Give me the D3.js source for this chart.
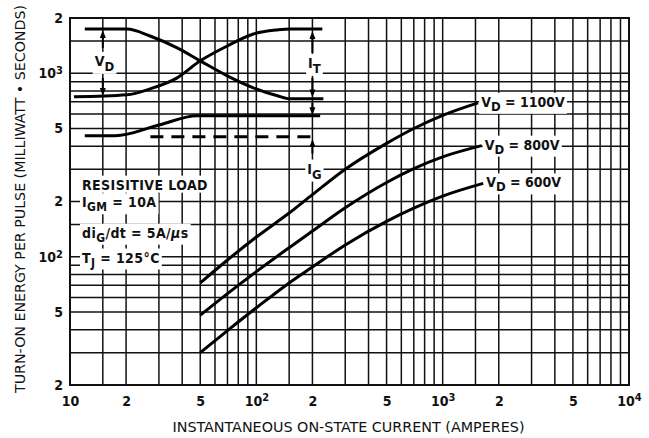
<!DOCTYPE html>
<html><head><meta charset="utf-8">
<script src="https://cdn.jsdelivr.net/npm/d3@7"></script>
<style>
body{margin:0;background:#fff;}
svg{display:block;background:#fff;}
text{font-family:"Liberation Sans Narrow","DejaVu Sans Condensed","Arial Narrow",sans-serif;fill:#111;white-space:pre;}
</style></head><body>
<svg id="chart" width="649" height="438"></svg>
<script>
// ---------- data ----------
const xDomain = [10, 10000];
const yDomain = [20, 2000];
const gridDecades = [10, 100, 1000];
const gridMultipliers = [1, 1.5, 2, 3, 4, 5, 6, 7, 8, 9];
const xTickValues = [10, 20, 50, 100, 200, 500, 1000, 2000, 5000, 10000];
const xTickLabels = ["10", "2", "5", "10^{2}", "2", "5", "10^{3}", "2", "5", "10^{4}"];
const yTickValues = [20, 50, 100, 200, 500, 1000, 2000];
const yTickLabels = ["2", "5", "10^{2}", "2", "5", "10^{3}", "2"];
const xTitle = "INSTANTANEOUS ON-STATE CURRENT (AMPERES)";
const yTitle = "TURN-ON ENERGY PER PULSE (MILLIWATT \u2022 SECONDS)";

const seriesLabels = ["V_{D} = 1100V", "V_{D} = 800V", "V_{D} = 600V"];
const current1100 = [50, 70, 100, 150, 200, 300, 500, 700, 1000, 1550];
const energy1100  = [72, 96, 128, 173, 218, 300, 415, 500, 590, 690];
const current800  = [50, 70, 100, 150, 200, 300, 500, 700, 1000, 1620];
const energy800   = [48, 63, 83, 112, 138, 185, 254, 302, 350, 403];
const current600  = [50, 70, 100, 150, 200, 300, 500, 700, 1000, 1650];
const energy600   = [30, 39.6, 52.7, 72, 88, 116, 156, 184, 214, 251];

// inset waveform sketch (in chart units: amperes, mW·s)
const vdWaveI = [12, 20.2, 26.9, 37.6, 50, 69.8, 96.4, 129.8, 152, 229];
const vdWaveE = [1742, 1742, 1596, 1374, 1168, 968, 833, 754, 726, 726];
const itWaveI = [10.5, 20.2, 26.9, 37.6, 50, 69.8, 96.4, 129.8, 152, 226];
const itWaveE = [744, 763, 822, 944, 1168, 1408, 1637, 1722, 1742, 1742];
const igWaveI = [12, 17.5, 30, 48, 220];
const igWaveE = [457, 457, 522, 587, 587];
const igDashI = [27, 215];
const igDashE = [451, 451];
const arrowCurrent = [15, 15, 200, 200, 200, 200];
const arrowTail = [1374, 944, 1291, 944, 690, 365];
const arrowTip  = [1720, 752, 1700, 738, 590, 438];
const insetLabels = ["V_{D}", "I_{T}", "I_{G}"];
const insetLabelI = [15.3, 205, 205];
const insetLabelE = [1097, 1070, 284];

const noteLines = ["RESISITIVE LOAD", "I_{GM} = 10A", "di_{G}/dt = 5A/~{\u03bc}s", "T_{J} = 125\u00b0C"];
const noteI = [11.6, 11.6, 11.6, 11.6];
const noteE = [232, 186, 127, 93];

// ---------- drawing ----------
const svg = d3.select("#chart");
const x = d3.scaleLog().domain(xDomain).range([70, 629]);
const y = d3.scaleLog().domain(yDomain).range([385, 18]);

const xGrid = [], yGrid = [];
gridDecades.forEach(d => gridMultipliers.forEach(m => { xGrid.push(d * m); }));
xGrid.push(10000);
gridDecades.forEach(d => gridMultipliers.forEach(m => { const v = d * m; if (v >= 20 && v <= 2000) yGrid.push(v); }));
yGrid.push(2000);

function rich(sel, str, o) {
  const re = /([_^~])\{([^}]*)\}/g;
  const parts = []; let last = 0, m;
  while ((m = re.exec(str))) {
    if (m.index > last) parts.push({t: "n", s: str.slice(last, m.index)});
    parts.push({t: m[1], s: m[2]});
    last = re.lastIndex;
  }
  if (last < str.length) parts.push({t: "n", s: str.slice(last)});
  let shift = 0;
  parts.forEach(p => {
    const ts = sel.append("tspan").text(p.s);
    let target = 0;
    if (p.t === "_") { target = o.subDy; ts.attr("font-size", o.subSize); }
    else if (p.t === "^") { target = -o.supDy; ts.attr("font-size", o.supSize); }
    else if (p.t === "~") { ts.attr("font-style", "italic"); }
    const dy = target - shift;
    if (dy) ts.attr("dy", dy);
    shift = target;
  });
}

// grid
const grid = svg.append("g");
grid.selectAll("line.v").data(xGrid).join("line").attr("class", "v")
  .attr("x1", d => x(d)).attr("x2", d => x(d)).attr("y1", y(yDomain[0])).attr("y2", y(yDomain[1]))
  .attr("stroke", "#111").attr("stroke-width", 1.5);
grid.selectAll("line.h").data(yGrid).join("line").attr("class", "h")
  .attr("y1", d => y(d)).attr("y2", d => y(d)).attr("x1", x(xDomain[0])).attr("x2", x(xDomain[1]))
  .attr("stroke", "#111").attr("stroke-width", 1.5);
svg.append("rect").attr("x", x(xDomain[0])).attr("y", y(yDomain[1]))
  .attr("width", x(xDomain[1]) - x(xDomain[0])).attr("height", y(yDomain[0]) - y(yDomain[1]))
  .attr("fill", "none").attr("stroke", "#111").attr("stroke-width", 2);

// axes
const gx = svg.append("g").attr("transform", `translate(0,${y(yDomain[0])})`)
  .call(d3.axisBottom(x).tickValues(xTickValues).tickFormat((d, i) => xTickLabels[i]).tickSize(0).tickPadding(11));
gx.select(".domain").remove();
gx.selectAll(".tick text").each(function(d, i) {
  const t = d3.select(this); t.text(null);
  t.attr("font-size", 14).attr("font-weight", "bold").attr("font-family", null);
  rich(t, xTickLabels[i], {supDy: 5, supSize: 11});
});
const gy = svg.append("g").attr("transform", `translate(${x(xDomain[0])},0)`)
  .call(d3.axisLeft(y).tickValues(yTickValues).tickFormat((d, i) => yTickLabels[i]).tickSize(0).tickPadding(7));
gy.select(".domain").remove();
gy.selectAll(".tick text").each(function(d, i) {
  const t = d3.select(this); t.text(null);
  t.attr("font-size", 14).attr("font-weight", "bold").attr("font-family", null);
  rich(t, yTickLabels[i], {supDy: 4, supSize: 11});
});

svg.append("text").attr("x", (x(xDomain[0]) + x(xDomain[1])) / 2 - 1).attr("y", 432)
  .attr("text-anchor", "middle").attr("font-size", 14).attr("textLength", 352)
  .attr("lengthAdjust", "spacingAndGlyphs").text(xTitle);
svg.append("text").attr("transform", "translate(25,199) rotate(-90)")
  .attr("text-anchor", "middle").attr("font-size", 14).attr("textLength", 388)
  .attr("lengthAdjust", "spacingAndGlyphs").text(yTitle);

// data curves
const line = d3.line().x(d => x(d[0])).y(d => y(d[1])).curve(d3.curveMonotoneX);
const series = [
  d3.zip(current1100, energy1100),
  d3.zip(current800, energy800),
  d3.zip(current600, energy600)
];
svg.append("g").selectAll("path").data(series).join("path")
  .attr("d", line).attr("fill", "none").attr("stroke", "#000").attr("stroke-width", 3);

// inset waveforms
const inset = svg.append("g");
[[vdWaveI, vdWaveE], [itWaveI, itWaveE], [igWaveI, igWaveE]].forEach(([a, b]) => {
  inset.append("path").datum(d3.zip(a, b)).attr("d", line)
    .attr("fill", "none").attr("stroke", "#000").attr("stroke-width", 3);
});
inset.append("path").datum(d3.zip(igDashI, igDashE)).attr("d", d3.line().x(d => x(d[0])).y(d => y(d[1])))
  .attr("fill", "none").attr("stroke", "#000").attr("stroke-width", 3).attr("stroke-dasharray", "13,8");

arrowCurrent.forEach((c, i) => {
  const xx = x(c), y0 = y(arrowTail[i]), y1 = y(arrowTip[i]);
  const dir = y1 > y0 ? 1 : -1;
  inset.append("line").attr("x1", xx).attr("x2", xx).attr("y1", y0).attr("y2", y1 - dir * 4)
    .attr("stroke", "#000").attr("stroke-width", 2);
  inset.append("path")
    .attr("d", `M${xx},${y1} L${xx - 3},${y1 - dir * 8} L${xx + 3},${y1 - dir * 8} Z`)
    .attr("fill", "#000");
});

function addLabel(g, px, py, str, anchor, o, pad) {
  const t = g.append("text").attr("x", px).attr("y", py).attr("text-anchor", anchor)
    .attr("font-size", o.size).attr("font-weight", "bold").attr("letter-spacing", o.ls || 0);
  rich(t, str, o);
  const bb = t.node().getBBox();
  g.insert("rect", () => t.node()).attr("x", bb.x - pad).attr("y", bb.y - 1)
    .attr("width", bb.width + 2 * pad).attr("height", bb.height + 1).attr("fill", "#fff");
  return t;
}

const labels = svg.append("g");
insetLabels.forEach((s, i) => {
  addLabel(labels, x(insetLabelI[i]), y(insetLabelE[i]), s, "middle", {size: 14, subSize: 13, subDy: 5}, 2);
});
noteLines.forEach((s, i) => {
  addLabel(labels, x(noteI[i]), y(noteE[i]), s, "start", {size: 14, subSize: 12, subDy: 4, ls: 0.4}, 2);
});
series.forEach((s, i) => {
  const e = s[s.length - 1];
  addLabel(labels, x(e[0]) + 3, y(e[1]) + 4, seriesLabels[i], "start", {size: 14, subSize: 13, subDy: 4, ls: 0}, 2);
});
</script>
</body></html>
